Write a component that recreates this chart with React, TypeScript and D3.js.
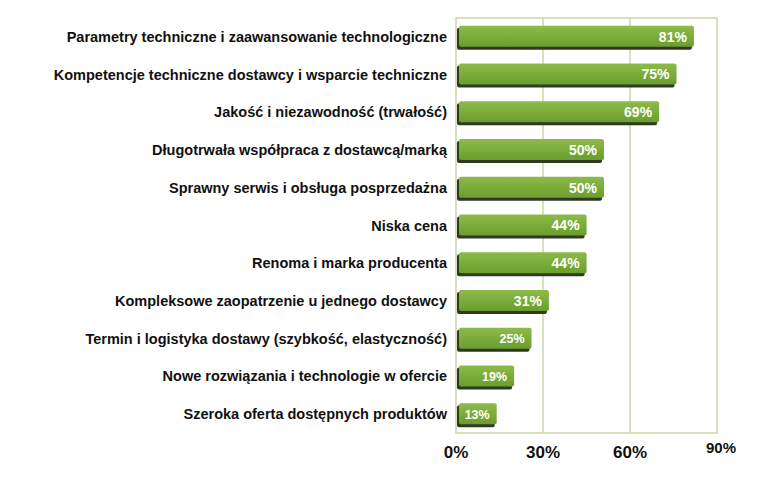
import * as d3 from "d3";

const categories = [
  "Parametry techniczne i zaawansowanie technologiczne",
  "Kompetencje techniczne dostawcy i wsparcie techniczne",
  "Jakość i niezawodność (trwałość)",
  "Długotrwała współpraca z dostawcą/marką",
  "Sprawny serwis i obsługa posprzedażna",
  "Niska cena",
  "Renoma i marka producenta",
  "Kompleksowe zaopatrzenie u jednego dostawcy",
  "Termin i logistyka dostawy (szybkość, elastyczność)",
  "Nowe rozwiązania i technologie w ofercie",
  "Szeroka oferta dostępnych produktów",
];
const values = [81, 75, 69, 50, 50, 44, 44, 31, 25, 19, 13];
const ticks = [0, 30, 60, 90];

export default function App() {
  const left = 456, right = 717, top = 18, bottom = 433;
  const x = d3.scaleLinear().domain([0, 90]).range([left, right]);
  const y = d3.scaleBand().domain(categories).range([top, bottom]).paddingInner(0.4).paddingOuter(0.2);
  const bh = 22;
  return (
    <svg width={764} height={477} style={{ position: "absolute", left: 0, top: 0, background: "#fff" }}
      fontFamily="Liberation Sans, Arial, sans-serif">
      <defs>
        <linearGradient id="g" x1="0" y1="0" x2="0" y2="1">
          <stop offset="0" stopColor="#8dbb4a" />
          <stop offset="1" stopColor="#6a9e2c" />
        </linearGradient>
      </defs>
      <rect x={left} y={top} width={right - left} height={bottom - top} fill="none" stroke="#cdd7a6" strokeWidth={1.5} />
      {ticks.slice(1, 3).map((t) => (
        <line key={t} x1={x(t)} x2={x(t)} y1={top} y2={bottom} stroke="#cdd7a6" strokeWidth={1.5} />
      ))}
      {categories.map((c, i) => {
        const cy = (y(c) as number) + y.bandwidth() / 2;
        const w = x(values[i]) - left;
        return (
          <g key={c}>
            <text x={447} y={cy} dy="0.35em" textAnchor="end" fontWeight="bold" fontSize={14.5} fill="#111">{c}</text>
            <rect x={left + 1} y={cy - bh / 2 + 2} width={w} height={bh} rx={2} fill="#2e3a22" />
            <rect x={left + 3} y={cy - bh / 2} width={w} height={bh - 1} rx={2} fill="url(#g)" />
            <text x={left + w - 4} y={cy} dy="0.35em" textAnchor="end" fontWeight="bold"
              fontSize={values[i] < 30 ? 12.5 : 14} fill="#fff">{values[i]}%</text>
          </g>
        );
      })}
      {ticks.map((t) => (
        <text key={t} x={x(t) + (t === 90 ? 4 : 0)} y={t === 90 ? 453 : 458} textAnchor="middle"
          fontWeight="bold" fontSize={t === 90 ? 15 : 17} fill="#111">{t}%</text>
      ))}
    </svg>
  );
}
